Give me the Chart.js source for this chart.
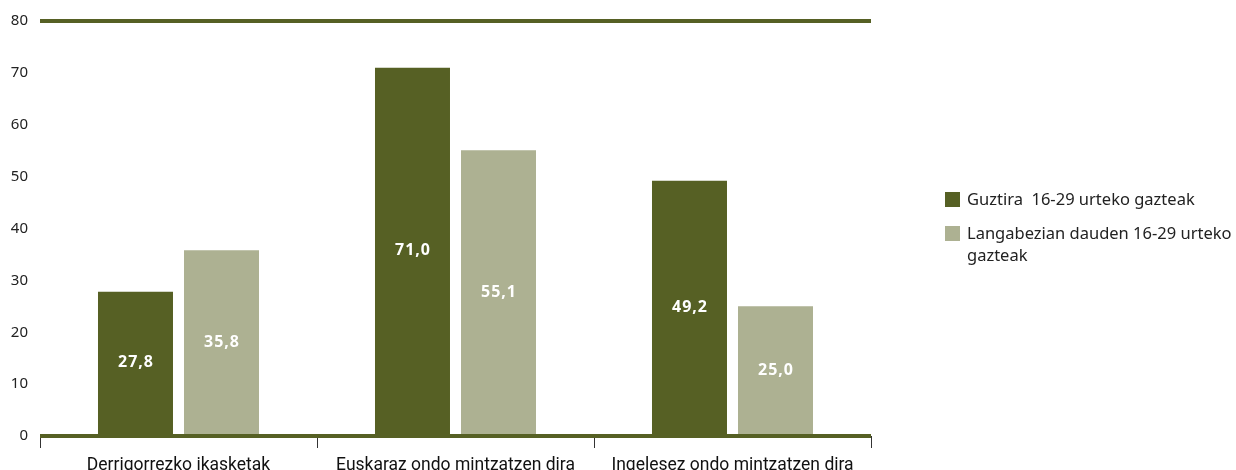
<!DOCTYPE html>
<html>
<head>
<meta charset="utf-8">
<script src="https://cdn.jsdelivr.net/npm/chart.js@4/dist/chart.umd.min.js"></script>
<style>
  html, body { margin: 0; padding: 0; background: #fff; }
  #wrap { position: relative; width: 1236px; height: 470px; overflow: hidden; }
  #c { position: absolute; left: 0; top: 0; }
  .legend { position: absolute; left: 945px; font-family: "Noto Sans", "Open Sans", sans-serif; font-size: 16.5px; color: #222; line-height: 22px; }
  .legend .item { position: absolute; left: 0; width: 300px; }
  .legend .box { position: absolute; left: 0; top: 3px; width: 15px; height: 15px; }
  .legend .txt { position: absolute; left: 22px; top: -1px; width: 272px; white-space: pre-wrap; }
</style>
</head>
<body>
<div id="wrap">
  <canvas id="c" width="1236" height="470"></canvas>
  <div class="legend" id="legend"></div>
</div>
<script>
const categories = ["Derrigorrezko ikasketak", "Euskaraz ondo mintzatzen dira", "Ingelesez ondo mintzatzen dira"];
const seriesNames = ["Guztira  16-29 urteko gazteak", "Langabezian dauden 16-29 urteko gazteak"];
const totalYouth = [27.8, 71.0, 49.2];
const unemployedYouth = [35.8, 55.1, 25.0];
const yTicks = [0, 10, 20, 30, 40, 50, 60, 70, 80];

const DARK = "#566024";
const LIGHT = "#adb192";
const colors = [DARK, LIGHT];

// HTML legend
const legendEl = document.getElementById("legend");
const tops = [189, 223];
seriesNames.forEach((n, i) => {
  const it = document.createElement("div");
  it.className = "item";
  it.style.top = tops[i] + "px";
  const b = document.createElement("div");
  b.className = "box";
  b.style.background = colors[i];
  const t = document.createElement("div");
  t.className = "txt";
  t.textContent = n;
  it.appendChild(b); it.appendChild(t);
  legendEl.appendChild(it);
});

const valueLabels = {
  id: "valueLabels",
  afterDatasetsDraw(chart) {
    const ctx = chart.ctx;
    ctx.save();
    ctx.fillStyle = "#ffffff";
    ctx.font = "bold 16px 'Noto Sans', 'Open Sans', sans-serif";
    if ("letterSpacing" in ctx) ctx.letterSpacing = "1px";
    ctx.textAlign = "center";
    ctx.textBaseline = "middle";
    chart.data.datasets.forEach((ds, di) => {
      chart.getDatasetMeta(di).data.forEach((bar, i) => {
        const v = ds.data[i];
        ctx.fillText(v.toFixed(1).replace(".", ","), bar.x + 0.5, (bar.y + bar.base) / 2);
      });
    });
    ctx.restore();
  }
};

new Chart(document.getElementById("c"), {
  type: "bar",
  data: {
    labels: categories,
    datasets: [
      { label: seriesNames[0], data: totalYouth, backgroundColor: DARK },
      { label: seriesNames[1], data: unemployedYouth, backgroundColor: LIGHT }
    ]
  },
  options: {
    responsive: false,
    animation: false,
    devicePixelRatio: 1,
    categoryPercentage: 0.621,
    barPercentage: 0.872,
    layout: { padding: { top: 21, right: 365, left: 0, bottom: 0 } },
    plugins: { legend: { display: false }, tooltip: { enabled: false } },
    scales: {
      x: {
        z: 1,
        border: { display: false },
        grid: { offset: true, drawOnChartArea: false, drawTicks: true, tickLength: 12, color: "#333", lineWidth: 1 },
        ticks: { color: "#111", padding: 7, font: { family: "'Liberation Sans Narrow', 'Roboto', sans-serif", size: 17.5 } },
        afterFit(scale) { scale.height = 34; }
      },
      y: {
        z: 1,
        min: 0, max: 80,
        afterBuildTicks(scale) { scale.ticks = yTicks.map(v => ({ value: v })); },
        border: { display: false },
        grid: {
          drawTicks: false,
          lineWidth: 4,
          color: (c) => (c.tick && (c.tick.value === 0 || c.tick.value === 80)) ? DARK : "rgba(0,0,0,0)"
        },
        ticks: { color: "#222", padding: 12, font: { family: "'Noto Sans', 'Open Sans', sans-serif", size: 15 } },
        afterFit(scale) { scale.width = 40; }
      }
    }
  },
  plugins: [valueLabels]
});
</script>
</body>
</html>
